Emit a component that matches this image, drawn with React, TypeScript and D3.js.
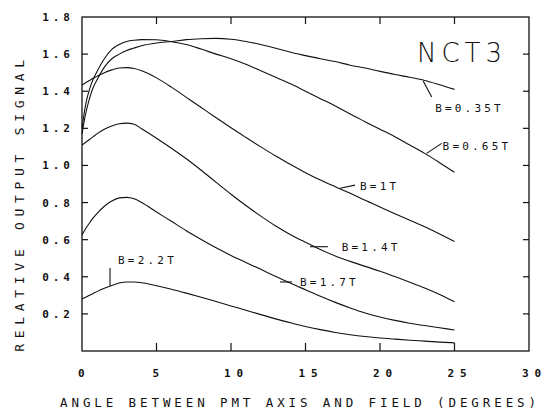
import React, { useEffect, useRef } from 'react';
import * as d3 from 'd3';

// angle between PMT axis and field (degrees)
const angles = [0, 0.25, 0.5, 0.75, 1, 1.5, 2, 2.5, 3, 3.5, 4, 5, 6, 7, 8, 9, 10, 11, 12, 13, 14, 15, 16, 17, 18, 19, 20, 21, 22, 23, 24, 25];

const b035 = [1.17, 1.28, 1.36, 1.42, 1.46, 1.53, 1.575, 1.6, 1.62, 1.633, 1.645, 1.66, 1.668, 1.678, 1.683, 1.685, 1.68, 1.668, 1.652, 1.632, 1.61, 1.592, 1.575, 1.56, 1.54, 1.525, 1.507, 1.49, 1.475, 1.458, 1.435, 1.41];
const b065 = [1.2, 1.33, 1.41, 1.465, 1.505, 1.575, 1.625, 1.652, 1.668, 1.675, 1.678, 1.677, 1.667, 1.652, 1.627, 1.6, 1.575, 1.545, 1.51, 1.475, 1.44, 1.4, 1.36, 1.32, 1.277, 1.236, 1.195, 1.155, 1.11, 1.065, 1.015, 0.963];
const b100 = [1.433, 1.446, 1.458, 1.47, 1.48, 1.5, 1.515, 1.525, 1.527, 1.522, 1.51, 1.472, 1.422, 1.367, 1.312, 1.257, 1.203, 1.151, 1.1, 1.051, 1.005, 0.961, 0.921, 0.885, 0.85, 0.812, 0.776, 0.74, 0.705, 0.669, 0.63, 0.59];
const b140 = [1.11, 1.125, 1.14, 1.155, 1.17, 1.195, 1.213, 1.225, 1.228, 1.222, 1.198, 1.147, 1.093, 1.036, 0.974, 0.909, 0.845, 0.784, 0.727, 0.674, 0.627, 0.586, 0.547, 0.512, 0.483, 0.456, 0.43, 0.401, 0.371, 0.34, 0.305, 0.265];
const b170 = [0.625, 0.66, 0.69, 0.717, 0.74, 0.78, 0.808, 0.825, 0.828, 0.82, 0.8, 0.749, 0.699, 0.648, 0.601, 0.556, 0.515, 0.477, 0.44, 0.402, 0.365, 0.33, 0.295, 0.262, 0.232, 0.205, 0.183, 0.165, 0.15, 0.137, 0.125, 0.113];
const b220 = [0.28, 0.29, 0.3, 0.31, 0.32, 0.338, 0.353, 0.366, 0.372, 0.372, 0.368, 0.352, 0.333, 0.312, 0.29, 0.267, 0.243, 0.22, 0.196, 0.173, 0.152, 0.132, 0.115, 0.1, 0.088, 0.078, 0.07, 0.064, 0.058, 0.053, 0.048, 0.044];

const series = [b035, b065, b100, b140, b170, b220];

const xTicks = [0, 5, 10, 15, 20, 25, 30];
const yTicks = [0.2, 0.4, 0.6, 0.8, 1.0, 1.2, 1.4, 1.6, 1.8];

// labels: text, pointer from (x1,y1) to (x2,y2), text start (tx,ty) in data units
const labelText = ['B=0.35T', 'B=0.65T', 'B=1T', 'B=1.4T', 'B=1.7T', 'B=2.2T'];
const pointerFrom: [number, number][] = [[22.9, 1.455], [23.13, 1.065], [17.32, 0.877], [15.3, 0.562], [13.29, 0.372], [1.88, 0.352]];
const pointerTo: [number, number][] = [[23.47, 1.369], [24.14, 1.119], [18.32, 0.894], [16.5, 0.562], [14.09, 0.372], [1.88, 0.447]];
const labelAt: [number, number][] = [[23.7, 1.31], [24.2, 1.106], [18.66, 0.889], [17.43, 0.562], [14.63, 0.372], [2.42, 0.49]];

export default function App() {
  const svgRef = useRef<SVGSVGElement>(null);

  useEffect(() => {
    if (!svgRef.current) return;
    const svg = d3.select(svgRef.current);
    svg.selectAll('*').remove();

    const L = 82, R = 529, T = 17, B = 351;
    const x = d3.scaleLinear().domain([0, 30]).range([L, R]);
    const y = d3.scaleLinear().domain([0, 1.8]).range([B, T]);
    const ink = '#111';
    const mono = "'DejaVu Sans Mono', monospace";

    // frame
    svg.append('rect').attr('x', L).attr('y', T).attr('width', R - L).attr('height', B - T)
      .attr('fill', 'none').attr('stroke', ink).attr('stroke-width', 1.3);

    // ticks (all inward)
    const tk = svg.append('g').attr('stroke', ink).attr('stroke-width', 1.2);
    xTicks.slice(1, -1).forEach(v => {
      tk.append('line').attr('x1', x(v)).attr('x2', x(v)).attr('y1', T).attr('y2', T + 7);
      tk.append('line').attr('x1', x(v)).attr('x2', x(v)).attr('y1', B).attr('y2', B - 8);
    });
    yTicks.slice(0, -1).forEach(v => {
      tk.append('line').attr('x1', L).attr('x2', L + 6).attr('y1', y(v)).attr('y2', y(v));
      tk.append('line').attr('x1', R).attr('x2', R - 6).attr('y1', y(v)).attr('y2', y(v));
    });

    // tick labels
    svg.append('g').selectAll('text').data(yTicks).join('text')
      .attr('x', 74).attr('y', d => y(d) + 4)
      .attr('text-anchor', 'end').attr('font-family', mono).attr('font-size', 11)
      .attr('font-weight', 'bold').attr('letter-spacing', 4).attr('fill', ink)
      .text(d => d.toFixed(1));
    svg.append('g').selectAll('text').data(xTicks).join('text')
      .attr('x', d => x(d) - (d >= 10 ? 7 : 4)).attr('y', 377)
      .attr('font-family', mono).attr('font-size', 11)
      .attr('font-weight', 'bold').attr('letter-spacing', 6).attr('fill', ink)
      .text(d => String(d));

    // axis titles
    svg.append('text').attr('x', 300).attr('y', 407).attr('text-anchor', 'middle')
      .attr('font-family', mono).attr('font-size', 12.5).attr('letter-spacing', 3.9).attr('fill', ink)
      .text('ANGLE BETWEEN PMT AXIS AND FIELD (DEGREES)');
    svg.append('text').attr('transform', 'translate(24,203) rotate(-90)').attr('text-anchor', 'middle')
      .attr('font-family', mono).attr('font-size', 13).attr('letter-spacing', 5.7).attr('fill', ink)
      .text('RELATIVE OUTPUT SIGNAL');

    // curves
    const line = d3.line<number>()
      .x((_, i) => x(angles[i]))
      .y(d => y(d))
      .curve(d3.curveMonotoneX);
    svg.append('g').selectAll('path').data(series).join('path')
      .attr('d', d => line(d))
      .attr('fill', 'none').attr('stroke', ink).attr('stroke-width', 1.1);

    // annotations
    const ann = svg.append('g');
    labelText.forEach((t, i) => {
      ann.append('line')
        .attr('x1', x(pointerFrom[i][0])).attr('y1', y(pointerFrom[i][1]))
        .attr('x2', x(pointerTo[i][0])).attr('y2', y(pointerTo[i][1]))
        .attr('stroke', ink).attr('stroke-width', 1.1);
      ann.append('text')
        .attr('x', x(labelAt[i][0])).attr('y', y(labelAt[i][1]) + 4)
        .attr('font-family', mono).attr('font-size', 11).attr('letter-spacing', 3.2)
        .attr('fill', ink).text(t);
    });

    // panel tag
    svg.append('text').attr('x', 417).attr('y', 62)
      .attr('font-family', "'DejaVu Sans', sans-serif").attr('font-weight', 200)
      .attr('font-size', 26).attr('letter-spacing', 5).attr('fill', ink)
      .text('NCT3');
  }, []);

  return (
    <svg
      ref={svgRef}
      width={546}
      height={413}
      style={{ position: 'absolute', left: 0, top: 0, background: '#fff' }}
    />
  );
}
